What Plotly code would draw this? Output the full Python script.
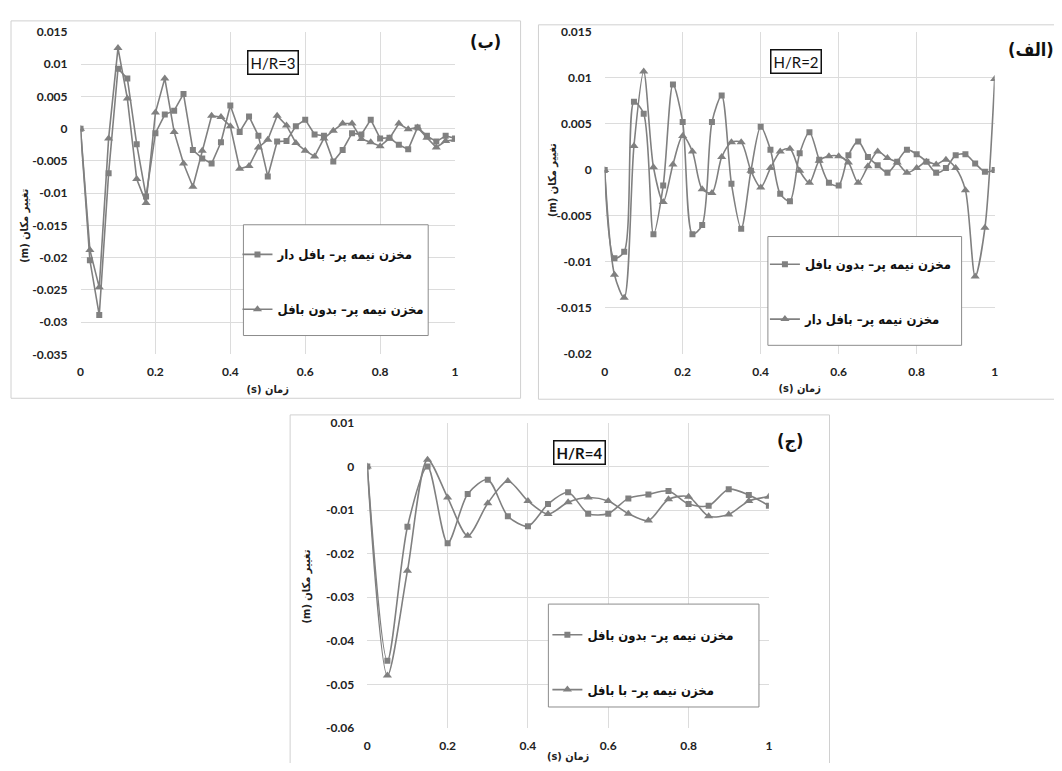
import plotly.graph_objects as go

# page is 1062x771; body has an 8px margin, so the figure is 1046x755 placed at (8, 8)
W, H = 1046, 755
OFF = 8

# ---------------- data ----------------
# Panel (ب) H/R=3, step 0.025 s
t_b = [round(i * 0.025, 3) for i in range(41)]
b_baffle = [0, -0.0204, -0.0289, -0.0069, 0.0093, 0.0078, -0.0024, -0.0105, -0.0007, 0.0022,
            0.0028, 0.0054, -0.0033, -0.0046, -0.0054, -0.0021, 0.0036, -0.0005, 0.0019, -0.0011,
            -0.0074, -0.0020, -0.0019, 0.0004, 0.0014, -0.0009, -0.0011, -0.0051, -0.0033, -0.0007,
            -0.0009, 0.0014, -0.0015, -0.0014, -0.0025, -0.0032, 0.0002, -0.0011, -0.0020, -0.0011,
            -0.0015]
b_nobaffle = [0, -0.0188, -0.0246, -0.0015, 0.0125, 0.0047, -0.0078, -0.0115, 0.0025, 0.0078,
              -0.0005, -0.0054, -0.0090, -0.0034, 0.0020, 0.0018, 0.0004, -0.0062, -0.0058, -0.0029,
              -0.0017, 0.0020, 0.0005, -0.0022, -0.0034, -0.0043, -0.0015, -0.0003, 0.0008, 0.0008,
              -0.0016, -0.0021, -0.0027, -0.0015, 0.0008, -0.0001, 0.0002, -0.0014, -0.0029, -0.0019,
              -0.0017]

# Panel (الف) H/R=2, step 0.025 s
t_a = [round(i * 0.025, 3) for i in range(41)]
a_nobaffle = [0, -0.0096, -0.0089, 0.0074, 0.0061, -0.0070, -0.0017, 0.0093, 0.0052, -0.0070,
              -0.0060, 0.0052, 0.0081, -0.0015, -0.0064, -0.0001, 0.0047, 0.0022, -0.0026, -0.0034,
              0.0018, 0.0041, 0.0011, -0.0014, -0.0017, 0.0016, 0.0031, 0.0014, 0.0005, -0.0003,
              0.0009, 0.0022, 0.0017, 0.0009, -0.0003, 0.0002, 0.0016, 0.0017, 0.0007, -0.0002,
              0.0]
a_baffle = [0, -0.0114, -0.0139, 0.0026, 0.0107, 0.0003, -0.0035, 0.0006, 0.0037, 0.0020,
            -0.0021, -0.0025, 0.0014, 0.0030, 0.0030, -0.0001, -0.0019, 0.0002, 0.0020, 0.0023,
            -0.0001, -0.0014, 0.0010, 0.0015, 0.0015, 0.0008, -0.0014, 0.0004, 0.0020, 0.0013,
            0.0008, -0.0003, 0.0002, 0.0009, 0.0006, 0.0011, 0.0002, -0.0022, -0.0116, -0.0063,
            0.0099]

# Panel (ج) H/R=4, step 0.05 s
t_c = [round(i * 0.05, 2) for i in range(21)]
c_nobaffle = [0, -0.0446, -0.0138, 0.0, -0.0176, -0.0063, -0.0030, -0.0114, -0.0137, -0.0086,
              -0.0059, -0.0108, -0.0108, -0.0073, -0.0064, -0.0056, -0.0086, -0.0090, -0.0052, -0.0065,
              -0.0090]
c_baffle = [0, -0.0480, -0.0239, 0.0016, -0.0071, -0.0159, -0.0084, -0.0033, -0.0079, -0.0109,
            -0.0082, -0.0071, -0.0079, -0.0108, -0.0124, -0.0075, -0.0069, -0.0114, -0.0110, -0.0079,
            -0.0069]

# tick labels
x_ticks = [0, 0.2, 0.4, 0.6, 0.8, 1]
x_ticktext = ["0", "0.2", "0.4", "0.6", "0.8", "1"]
yb_ticks = [0.015, 0.01, 0.005, 0, -0.005, -0.01, -0.015, -0.02, -0.025, -0.03, -0.035]
yb_ticktext = ["0.015", "0.01", "0.005", "0", "-0.005", "-0.01", "-0.015", "-0.02", "-0.025", "-0.03", "-0.035"]
ya_ticks = [0.015, 0.01, 0.005, 0, -0.005, -0.01, -0.015, -0.02]
ya_ticktext = ["0.015", "0.01", "0.005", "0", "-0.005", "-0.01", "-0.015", "-0.02"]
yc_ticks = [0.01, 0, -0.01, -0.02, -0.03, -0.04, -0.05, -0.06]
yc_ticktext = ["0.01", "0", "-0.01", "-0.02", "-0.03", "-0.04", "-0.05", "-0.06"]

# text
name_half_baffle = "مخزن نیمه پر– بافل دار"
name_half_nobaffle = "مخزن نیمه پر– بدون بافل"
name_half_with = "مخزن نیمه پر– با بافل"
y_title = "(m) تغییر مکان"
x_title = "(s) زمان"
lab_b, lab_a, lab_c = "(ب)", "(الف)", "(ج)"
hr_b, hr_a, hr_c = "H/R=3", "H/R=2", "<b>H/R=4</b>"

# ---------------- style ----------------
GRAY = "#808080"
GRID = "#dcdcdc"
LATIN = "Lato, DejaVu Sans"
ARABIC = "DejaVu Sans Condensed, DejaVu Sans"


def px(x):
    return (x - OFF) / W


def py(y):
    return 1 - (y - OFF) / H


fig = go.Figure()


def add(x, y, name, sym, xa, ya, leg, shape, group):
    fig.add_trace(go.Scatter(
        x=x, y=y, name=name, mode="lines+markers",
        line=dict(color=GRAY, width=1.6, shape=shape, smoothing=0.8),
        marker=dict(symbol=sym, size=6 if sym == "square" else 8, color=GRAY),
        xaxis=xa, yaxis=ya, legend=leg, legendgroup=group,
    ))


add(t_b, b_baffle, name_half_baffle, "square", "x", "y", "legend", "linear", "b1")
add(t_b, b_nobaffle, name_half_nobaffle, "triangle-up", "x", "y", "legend", "linear", "b2")
add(t_a, a_nobaffle, name_half_nobaffle, "square", "x2", "y2", "legend2", "spline", "a1")
add(t_a, a_baffle, name_half_baffle, "triangle-up", "x2", "y2", "legend2", "spline", "a2")
add(t_c, c_nobaffle, name_half_nobaffle, "square", "x3", "y3", "legend3", "spline", "c1")
add(t_c, c_baffle, name_half_with, "triangle-up", "x3", "y3", "legend3", "spline", "c2")

tickfont = dict(family=LATIN, size=12, color="#222", weight="bold")
titlefont = dict(family=ARABIC, size=11, color="#222", weight="bold")


def xax(domain, anchor, standoff):
    return dict(domain=domain, anchor=anchor, range=[0, 1], tickvals=x_ticks, ticktext=x_ticktext,
                showgrid=True, gridcolor=GRID, gridwidth=1, zeroline=False, showline=False,
                tickfont=tickfont, title=dict(text=x_title, font=titlefont, standoff=standoff),
                ticks="", ticklabelstandoff=9)


def yax(domain, anchor, rng, tv, tt):
    return dict(domain=domain, anchor=anchor, range=rng, tickvals=tv, ticktext=tt,
                showgrid=True, gridcolor=GRID, gridwidth=1, zeroline=False, showline=False,
                tickfont=tickfont, ticks="", ticklabelstandoff=12)


leg_common = dict(font=dict(family=ARABIC, size=13, color="#111", weight="bold"),
                  bgcolor="rgba(0,0,0,0)", borderwidth=0, tracegroupgap=35,
                  traceorder="grouped", itemwidth=30, xanchor="left", yanchor="top")

fig.update_layout(
    width=W, height=H, margin=dict(l=0, r=0, t=0, b=0),
    paper_bgcolor="white", plot_bgcolor="white",
    font=dict(family=LATIN),
    xaxis=xax([px(78), px(455)], "y", 6),
    yaxis=yax([py(353.3), py(24.3)], "x", [-0.035, 0.015], yb_ticks, yb_ticktext),
    xaxis2=xax([px(605.7), px(998.3)], "y2", 6),
    yaxis2=yax([py(352.7), py(24.3)], "x2", [-0.02, 0.015], ya_ticks, ya_ticktext),
    xaxis3=xax([px(366.7), px(771)], "y3", 2),
    yaxis3=yax([py(734.3), py(423.3)], "x3", [-0.06, 0.01], yc_ticks, yc_ticktext),
    legend=dict(x=px(236), y=py(236), **leg_common),
    legend2=dict(x=px(767), y=py(246), **leg_common),
    legend3=dict(x=px(548), y=py(624), **leg_common),
    showlegend=True,
)

# panel frames and legend boxes (page pixel coordinates)
frames = [(8, 13, 521, 398), (539, 17, 1070, 399), (289, 415, 832, 780)]
boxes = [(242, 221, 428, 334), (770, 233, 965, 344), (549, 608, 761, 713)]
for (x0, y0, x1, y1) in frames:
    fig.add_shape(type="rect", xref="paper", yref="paper", x0=px(x0), x1=px(x1), y0=py(y1), y1=py(y0),
                  line=dict(color="#d0d0d0", width=1), layer="below")
for (x0, y0, x1, y1) in boxes:
    fig.add_shape(type="rect", xref="paper", yref="paper", x0=px(x0), x1=px(x1), y0=py(y1), y1=py(y0),
                  line=dict(color="#8c8c8c", width=1), fillcolor="white", layer="above")

# y-axis titles (rotated)
for cx, cy in [(22, 222), (553, 175), (305, 590)]:
    fig.add_annotation(xref="paper", yref="paper", x=px(cx), y=py(cy), text=y_title, showarrow=False,
                       textangle=-90, xanchor="center", yanchor="middle", font=titlefont)

# H/R labels
for txt, cx, cy in [(hr_b, 272, 55), (hr_a, 798, 54), (hr_c, 580, 453)]:
    fig.add_annotation(xref="paper", yref="paper", x=px(cx), y=py(cy), text=txt, showarrow=False,
                       xanchor="center", yanchor="middle",
                       font=dict(family=LATIN, size=15, color="#111"), bordercolor="#111", borderwidth=1.5,
                       borderpad=2, bgcolor="white")

# panel letters
letter_font = dict(family=ARABIC, size=18, color="#111", weight="bold")
fig.add_annotation(xref="paper", yref="paper", x=px(486), y=py(34), text=lab_b, showarrow=False,
                   xanchor="center", yanchor="middle", font=letter_font)
fig.add_annotation(xref="paper", yref="paper", x=px(1060), y=py(42), text=lab_a, showarrow=False,
                   xanchor="right", yanchor="middle", font=letter_font)
fig.add_annotation(xref="paper", yref="paper", x=px(792), y=py(442), text=lab_c, showarrow=False,
                   xanchor="center", yanchor="middle", font=letter_font)

fig.write_html("out.html")
